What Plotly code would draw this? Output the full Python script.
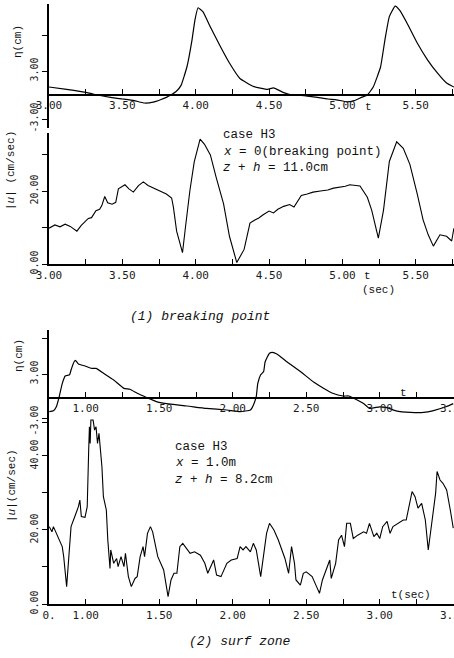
import plotly.graph_objects as go

# ---------------- data ----------------
# (1) breaking point : surface elevation eta (cm)
t_eta1 = [3.00, 3.12, 3.26, 3.33, 3.42, 3.50, 3.58, 3.65, 3.71, 3.76, 3.80, 3.83, 3.87, 3.90,
          3.94, 3.975, 3.995, 4.016, 4.05, 4.10, 4.17, 4.23, 4.30, 4.39, 4.49, 4.53, 4.60, 4.66,
          4.75, 4.83, 4.90, 4.96, 5.03, 5.08, 5.13, 5.17, 5.21, 5.26, 5.29, 5.32, 5.36, 5.39,
          5.44, 5.51, 5.58, 5.65, 5.71, 5.76]
eta1 = [1.0, 0.7, 0.3, 0.0, -0.3, -0.5, -0.7, -1.0, -0.9, -0.6, -0.3, 0.0, 0.5, 1.2,
        3.5, 6.9, 9.4, 10.9, 10.4, 8.5, 6.0, 4.0, 2.1, 1.1, 0.7, 0.9, 0.3, 0.0,
        -0.1, -0.3, -0.5, -0.6, -0.85, -0.7, -0.3, 0.0, 1.0, 3.5, 6.9, 9.8, 11.1, 10.6,
        9.0, 6.5, 4.4, 2.7, 1.5, 1.0]

# (1) breaking point : |u| (cm/sec)
t_u1 = [3.00, 3.04, 3.075, 3.11, 3.145, 3.19, 3.22, 3.268, 3.29, 3.32, 3.345, 3.36, 3.38, 3.40,
        3.43, 3.455, 3.473, 3.50, 3.518, 3.545, 3.575, 3.61, 3.643, 3.675, 3.711, 3.75, 3.80,
        3.836, 3.848, 3.87, 3.91, 3.93, 3.96, 3.99, 4.03, 4.06, 4.10, 4.14, 4.19, 4.23, 4.28,
        4.33, 4.37, 4.40, 4.43, 4.46, 4.50, 4.53, 4.56, 4.60, 4.64, 4.67, 4.72, 4.76, 4.80,
        4.85, 4.90, 4.94, 4.98, 5.02, 5.05, 5.09, 5.12, 5.17, 5.20, 5.245, 5.28, 5.32, 5.37,
        5.415, 5.46, 5.51, 5.55, 5.585, 5.62, 5.665, 5.71, 5.745, 5.76]
u1 = [9.8, 10.7, 10.2, 10.9, 10.3, 9.0, 10.6, 12.5, 12.7, 14.6, 15.0, 16.0, 18.5, 16.8,
      16.4, 16.9, 20.6, 21.2, 21.7, 20.6, 19.7, 21.5, 22.5, 21.5, 20.8, 20.0, 19.2,
      18.1, 15.6, 9.0, 3.1, 10.0, 20.0, 28.0, 34.2, 32.8, 29.9, 23.7, 16.5, 7.6, 0.4,
      4.0, 11.2, 12.0, 12.6, 13.5, 14.5, 14.0, 15.0, 15.8, 16.3, 15.6, 18.8, 19.2, 19.7,
      20.0, 20.3, 20.8, 21.0, 21.3, 21.7, 21.5, 21.4, 18.3, 14.7, 7.1, 14.7, 28.1, 33.5,
      31.7, 27.3, 19.2, 12.1, 8.0, 4.9, 8.0, 7.6, 6.3, 9.8]

# (2) surf zone : eta (cm)
t_eta2 = [0.752, 0.78, 0.80, 0.82, 0.84, 0.86, 0.89, 0.90, 0.92, 0.93, 0.95, 0.995, 1.04, 1.07,
          1.12, 1.19, 1.26, 1.30, 1.35, 1.41, 1.48, 1.55, 1.69, 1.82, 1.96, 2.05, 2.12, 2.14,
          2.16, 2.17, 2.19, 2.21, 2.22, 2.25, 2.27, 2.30, 2.37, 2.46, 2.55, 2.62, 2.68, 2.75,
          2.79, 2.82, 2.89, 2.93, 3.00, 3.05, 3.11, 3.21, 3.30, 3.36, 3.45, 3.50]
eta2 = [-1.7, -1.6, -1.1, 0.2, 1.8, 2.75, 2.9, 3.5, 4.5, 4.7, 4.25, 4.0, 3.7, 3.7,
        3.1, 2.25, 1.2, 1.1, 0.6, 0.1, -0.45, -0.7, -1.0, -1.3, -1.5, -1.7, -1.5, -0.9,
        0.2, 1.8, 2.9, 3.3, 4.5, 5.6, 5.7, 5.5, 4.5, 3.3, 2.0, 1.2, 0.6, 0.25,
        0.25, 0.0, -0.7, -1.3, -1.1, -1.2, -1.6, -1.8, -1.8, -1.6, -1.1, -0.7]

# (2) surf zone : |u| (cm/sec)
t_u2 = [0.752, 0.77, 0.78, 0.80, 0.82, 0.84, 0.85, 0.87, 0.88, 0.90, 0.93, 0.95, 0.96, 0.97,
        0.995, 1.01, 1.02, 1.025, 1.03, 1.035, 1.05, 1.06, 1.07, 1.08, 1.09, 1.11, 1.12, 1.14,
        1.15, 1.165, 1.17, 1.19, 1.21, 1.22, 1.24, 1.26, 1.27, 1.29, 1.31, 1.335, 1.35, 1.37,
        1.39, 1.40, 1.42, 1.44, 1.455, 1.47, 1.49, 1.53, 1.55, 1.56, 1.58, 1.60, 1.62, 1.64,
        1.66, 1.69, 1.71, 1.74, 1.78, 1.81, 1.83, 1.87, 1.89, 1.92, 1.96, 1.99, 2.03, 2.05,
        2.07, 2.09, 2.12, 2.14, 2.16, 2.19, 2.21, 2.23, 2.25, 2.28, 2.31, 2.33, 2.355, 2.38,
        2.40, 2.42, 2.43, 2.46, 2.48, 2.50, 2.54, 2.57, 2.59, 2.61, 2.64, 2.66, 2.67, 2.70,
        2.72, 2.74, 2.76, 2.775, 2.80, 2.82, 2.85, 2.89, 2.91, 2.93, 2.96, 2.98, 3.00, 3.02,
        3.05, 3.07, 3.09, 3.13, 3.16, 3.18, 3.21, 3.22, 3.24, 3.26, 3.285, 3.31, 3.33, 3.35,
        3.38, 3.39, 3.41, 3.43, 3.455, 3.48, 3.50]
u2 = [20.9, 19.5, 20.9, 19.1, 17.3, 15.5, 12.8, 4.7, 10.1, 20.9, 24.1, 26.3, 28.1, 23.6,
      23.4, 26.3, 41.6, 47.9, 43.4, 49.7, 49.7, 47.0, 47.9, 43.4, 46.1, 37.1, 29.0, 25.4,
      17.3, 9.6, 14.6, 11.0, 12.3, 10.1, 12.8, 10.1, 13.7, 7.4, 4.7, 6.9, 7.4, 12.8,
      15.5, 12.8, 19.1, 20.9, 19.5, 16.4, 12.8, 9.2, 4.7, 2.0, 6.5, 8.3, 8.3, 15.5,
      16.4, 14.6, 13.7, 14.1, 13.2, 11.0, 8.3, 11.9, 7.8, 7.4, 11.0, 11.9, 12.3, 15.5,
      14.6, 15.5, 14.1, 16.4, 14.6, 7.4, 12.8, 19.1, 21.8, 20.0, 17.3, 15.0, 12.3, 8.3,
      15.5, 11.0, 6.5, 5.1, 8.3, 8.7, 7.4, 4.7, 2.9, 6.5, 10.1, 11.9, 6.9, 11.0,
      17.3, 18.6, 15.5, 21.8, 21.8, 17.7, 18.6, 19.5, 19.1, 21.8, 18.2, 19.1, 17.7, 20.9,
      22.3, 19.1, 20.9, 21.8, 22.7, 22.7, 28.1, 30.4, 29.0, 25.9, 27.2, 22.7, 14.6, 20.9,
      29.9, 35.8, 33.5, 32.6, 30.8, 25.4, 20.5]

assert len(t_eta1) == len(eta1) and len(t_u1) == len(u1)
assert len(t_eta2) == len(eta2) and len(t_u2) == len(u2), (len(t_u2), len(u2))

# tick labels
t1_ticks = [3.00 + 0.25 * i for i in range(12)]
t1_text = ["3.00", "", "3.50", "", "4.00", "", "4.50", "", "5.00", "", "5.50", ""]
t2_ticks = [0.75 + 0.25 * i for i in range(12)]
t2_text_eta = ["", "1.00", "", "1.50", "", "2.00", "", "2.50", "", "3.00", "", "3.50"]
t2_text_u = ["0.", "1.00", "", "1.50", "", "2.00", "", "2.50", "", "3.00", "", "3.50"]
eta_ticks = [-3.0, 3.0, 7.5]
eta_text = ["-3.00", "3.00", ""]
u1_ticks = [0, 10, 20, 30]
u1_text = ["0.00", "", "20.00", ""]
u2_ticks = [0, 10, 20, 30, 40, 50]
u2_text = ["0.00", "", "20.00", "", "40.00", ""]

# ---------------- layout helpers ----------------
W, H = 454, 658


def fx(px):
    return px / W


def fy(py):
    return 1 - py / H


def ydom(top_px, bot_px):
    return [fy(bot_px), fy(top_px)]


def zero_pos(dom, rng):
    return dom[0] + (0 - rng[0]) / (rng[1] - rng[0]) * (dom[1] - dom[0])


XDOM = [fx(49), 1.0]
TICKF_X = dict(family="DejaVu Sans Mono", size=11, color="#1a1a1a")
TICKF_Y = dict(family="DejaVu Sans Mono", size=10, color="#1a1a1a")

dom1, rng1 = ydom(4, 128), [-4.125, 11.375]
dom2, rng2 = ydom(133, 264), [0, 35.9]
dom3, rng3 = ydom(330, 428), [-3.75, 8.5]
dom4, rng4 = ydom(416, 604), [0, 50.8]
xr1 = [3.0, 3.0 + 405 / 146.7]
xr2 = [0.75, 0.75 + 405 / 147.0]

line_eta = dict(color="black", width=1.2, shape="spline", smoothing=0.4)
line_u = dict(color="black", width=1.1)

fig = go.Figure()
fig.add_trace(go.Scatter(x=t_eta1, y=eta1, xaxis="x", yaxis="y", mode="lines", line=line_eta))
fig.add_trace(go.Scatter(x=t_u1, y=u1, xaxis="x2", yaxis="y2", mode="lines", line=line_u))
fig.add_trace(go.Scatter(x=t_eta2, y=eta2, xaxis="x3", yaxis="y3", mode="lines", line=line_eta))
fig.add_trace(go.Scatter(x=t_u2, y=u2, xaxis="x4", yaxis="y4", mode="lines", line=line_u))


def xax(rng, ticks, text, anchor, position=None):
    d = dict(domain=XDOM, range=rng, showline=True, linecolor="black", linewidth=1.5,
             showgrid=False, zeroline=False, ticks="inside", ticklen=5, tickwidth=1.2,
             tickcolor="black", tickmode="array", tickvals=ticks, ticktext=text,
             tickfont=TICKF_X, tickangle=0, ticklabeloverflow="allow", automargin=False)
    if position is None:
        d["anchor"] = anchor
    else:
        d["anchor"] = "free"
        d["position"] = position
    return d


def yax(dom, rng, ticks, text, anchor):
    return dict(domain=dom, range=rng, anchor=anchor, showline=True, linecolor="black",
                linewidth=1.5, showgrid=False, zeroline=False, ticks="outside", ticklen=5,
                tickwidth=1.2, tickcolor="black", tickmode="array", tickvals=ticks,
                ticktext=text, tickfont=TICKF_Y, tickangle=-90, automargin=False)


def ann(text, xpx, ypx, size=12.5, xanchor="left", angle=0, family="Liberation Mono"):
    return dict(text=text, x=fx(xpx), y=fy(ypx), xref="paper", yref="paper",
                xanchor=xanchor, yanchor="middle", showarrow=False, textangle=angle,
                font=dict(family=family, size=size, color="#111"))


annotations = [
    ann("η(cm)", 18, 42, size=11, xanchor="center", angle=-90),
    ann("|<i>u</i>| (cm/sec)", 11, 171, size=11, xanchor="center", angle=-90),
    ann("η(cm)", 19, 356, size=11, xanchor="center", angle=-90),
    ann("|<i>u</i>|(cm/sec)", 12, 486, size=11, xanchor="center", angle=-90),
    ann("t", 368, 107, size=11, xanchor="center"),
    ann("t", 367, 276, size=11, xanchor="center"),
    ann("(sec)", 378, 290, size=11, xanchor="center"),
    ann("t", 403, 393, size=11, xanchor="center"),
    ann("t(sec)", 411, 595, size=11, xanchor="center"),
    ann("case H3", 221, 135),
    ann("<i>x</i> = 0(breaking point)", 221, 152),
    ann("<i>z</i> + <i>h</i> = 11.0cm", 221, 168),
    ann("case H3", 173, 447),
    ann("<i>x</i> = 1.0m", 173, 463),
    ann("<i>z</i> + <i>h</i> = 8.2cm", 173, 480),
    ann("<i>(1) breaking point</i>", 200, 316, size=13, xanchor="center"),
    ann("<i>(2) surf zone</i>", 240, 641, size=13, xanchor="center"),
]

fig.update_layout(
    width=W, height=H, margin=dict(l=0, r=0, t=0, b=0, autoexpand=False), autosize=False,
    paper_bgcolor="white", plot_bgcolor="white", showlegend=False,
    xaxis=xax(xr1, t1_ticks, t1_text, None, zero_pos(dom1, rng1)),
    yaxis=yax(dom1, rng1, eta_ticks, eta_text, "x"),
    xaxis2=xax(xr1, t1_ticks, t1_text, "y2"),
    yaxis2=yax(dom2, rng2, u1_ticks, u1_text, "x2"),
    xaxis3=xax(xr2, t2_ticks, t2_text_eta, None, zero_pos(dom3, rng3)),
    yaxis3=yax(dom3, rng3, eta_ticks, eta_text, "x3"),
    xaxis4=xax(xr2, t2_ticks, t2_text_u, "y4"),
    yaxis4=yax(dom4, rng4, u2_ticks, u2_text, "x4"),
    annotations=annotations,
)

fig.write_html(
    "out.html",
    config={"displayModeBar": False},
    post_script="document.body.style.margin='0';document.body.style.padding='0';"
                "document.documentElement.style.overflow='hidden';",
)
